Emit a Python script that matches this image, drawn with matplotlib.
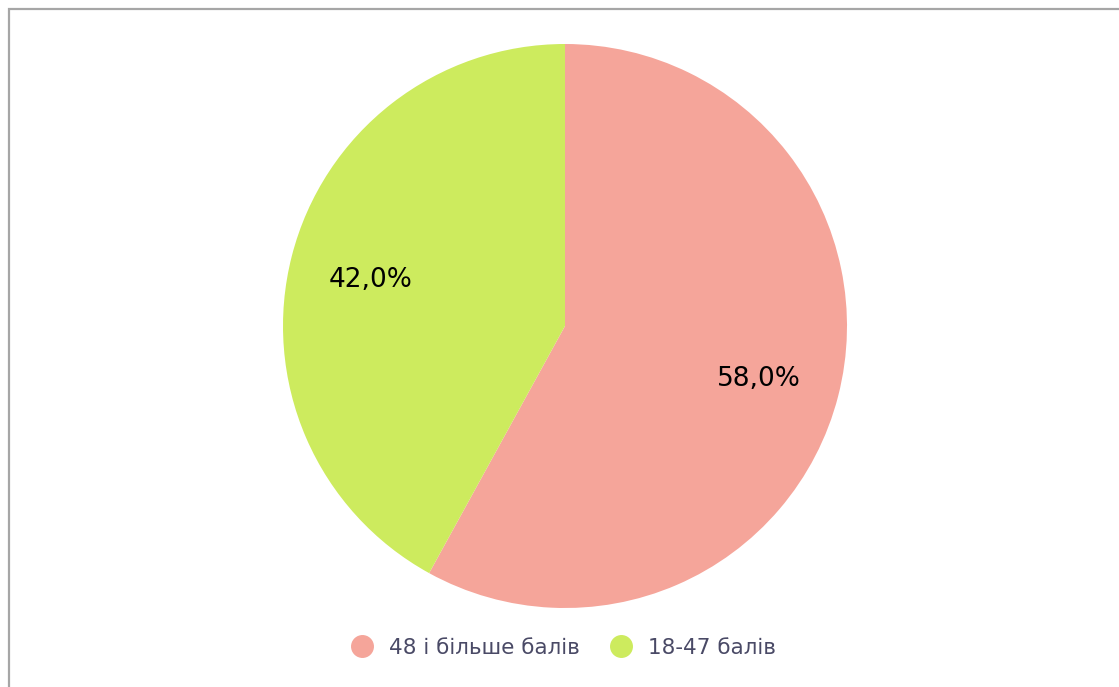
import matplotlib.pyplot as plt
from matplotlib.lines import Line2D
from matplotlib.patches import Rectangle

labels = ['48 і більше балів', '18-47 балів']
values = [58.0, 42.0]
colors = ['#F5A59A', '#CDEB5E']

fig = plt.figure(figsize=(11.19, 6.87), dpi=100)

# frame, only top and left edges are visible in the picture
fig.patches.append(Rectangle((9 / 1119, -0.1), 1.2, 1 - 9 / 687 + 0.1,
                             transform=fig.transFigure, fill=False,
                             edgecolor='#a6a6a6', linewidth=1.6))

ax = fig.add_axes([283 / 1119, 79 / 687, 564 / 1119, 564 / 687])
wedges, texts, autotexts = ax.pie(
    values, colors=colors, startangle=90, counterclock=False,
    autopct=lambda p: f'{p:.1f}%'.replace('.', ','), pctdistance=0.71,
    textprops={'fontsize': 19, 'color': 'black'}, radius=1)
for t in autotexts:
    x, y = t.get_position()
    t.set_position((x, y - 0.012))
ax.set_xlim(-1, 1)
ax.set_ylim(-1, 1)
ax.set_aspect('equal')
ax.axis('off')

handles = [Line2D([], [], marker='o', linestyle='none', markersize=15.5,
                  markerfacecolor=c, markeredgecolor=c) for c in colors]
fig.legend(handles, labels, loc='center', bbox_to_anchor=(0.499, 1 - 648 / 687),
           ncol=2, frameon=False, fontsize=15.5, labelcolor='#4a4a66',
           handletextpad=0.25, columnspacing=0.9)

fig.savefig('out.png', dpi=100)
